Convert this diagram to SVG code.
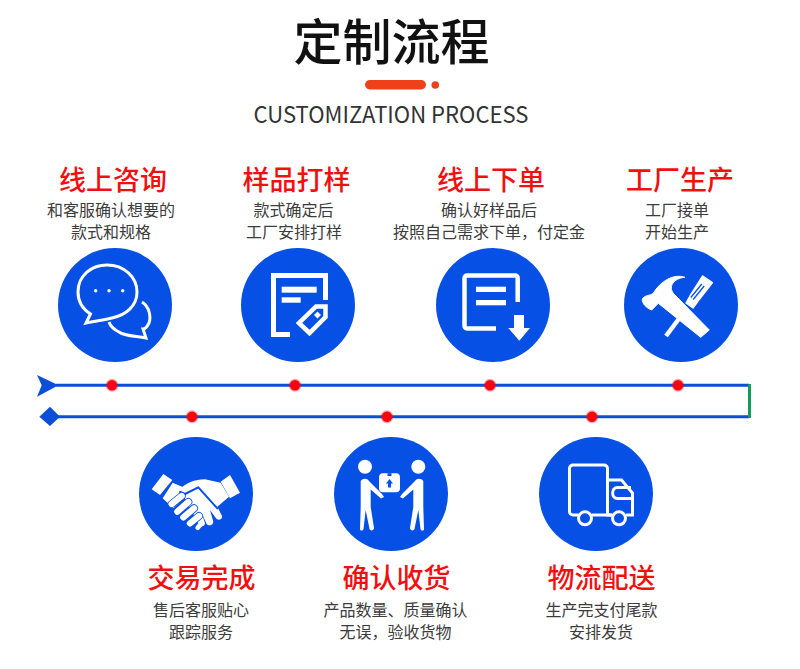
<svg xmlns="http://www.w3.org/2000/svg" width="800" height="669" viewBox="0 0 800 669">
<style>
text{font-family:"Noto Sans CJK SC","Noto Sans",sans-serif;text-anchor:middle}
.h{font-size:27px;fill:#f01010;font-weight:500}
.d{font-size:16px;fill:#3c3c3c;font-weight:400}
.c{fill:#0650e6}
.w{fill:#fff}
.s{fill:none;stroke:#fff;stroke-linecap:butt;stroke-linejoin:miter}
.dot{fill:#f6060f;stroke:#f6060f;stroke-opacity:.35;stroke-width:2.500}
.ln{fill:none;stroke:#0b4fd8;stroke-width:3}
.lump{fill:none;stroke:#0650e6;stroke-width:24;stroke-linecap:round}
.lw{fill:none;stroke:#fff;stroke-width:19;stroke-linecap:round}
</style>
<rect width="800" height="669" fill="#fff"/>
<g id="header">
<text x="391.500" y="60" font-size="49" font-weight="500" fill="#111">定制流程</text>
<rect x="365" y="80" width="61" height="9.500" rx="4.700" fill="#f0401a"/>
<circle cx="435.300" cy="85" r="3.800" fill="#f0401a"/>
<text x="391" y="123" font-size="23" font-weight="400" fill="#333" textLength="275" lengthAdjust="spacingAndGlyphs">CUSTOMIZATION PROCESS</text>
</g>
<g id="connectors">
<path class="ln" d="M56 385.300H749"/>
<path class="ln" d="M58 416.700H749"/>
<path d="M749.500 384V418" fill="none" stroke="#159a5e" stroke-width="3"/>
<path d="M37 375L58.500 385.300L37 396.700L41.700 385.300Z" fill="#0b4fd8"/>
<path d="M50 406.700L60 416.700L50 426L39.300 416.700Z" fill="#0b4fd8"/>
<circle class="dot" cx="112" cy="385.300" r="5.200"/>
<circle class="dot" cx="295" cy="385.300" r="5.200"/>
<circle class="dot" cx="490" cy="385.300" r="5.200"/>
<circle class="dot" cx="678" cy="385.300" r="5.200"/>
<circle class="dot" cx="192" cy="416.700" r="5.200"/>
<circle class="dot" cx="387" cy="416.700" r="5.200"/>
<circle class="dot" cx="592" cy="416.700" r="5.200"/>
</g>
<g id="node-consult">
<text class="h" x="113" y="190">线上咨询</text>
<text class="d" x="111" y="216">和客服确认想要的</text>
<text class="d" x="111" y="238">款式和规格</text>
<circle class="c" cx="115" cy="305" r="57"/>
<path class="s" stroke-width="3" d="M86 323L90.500 314C81 308 78 299 78 292C78 275 92 265 107 265C124 265 137 277 137 292C137 306 126 315 112 318C105 320 95 321 86 323Z"/>
<path class="s" stroke-width="3" d="M142 302C150 307 151 318 149 323C147 327 145 329 143 329L146 338C135 336 124 336 119 332C113 329 110 325 109 322"/>
<circle class="w" cx="95.700" cy="290.700" r="1.700"/><circle class="w" cx="109" cy="290.700" r="1.700"/><circle class="w" cx="122.700" cy="290.700" r="1.700"/>
</g>
<g id="node-sample">
<text class="h" x="296.500" y="190">样品打样</text>
<text class="d" x="293.500" y="216">款式确定后</text>
<text class="d" x="294" y="238">工厂安排打样</text>
<circle class="c" cx="298" cy="305" r="57"/>
<path class="s" stroke-width="5" d="M290 334.500H273.500V275.500H325.500V300"/>
<rect class="w" x="281.700" y="286.700" width="35" height="6"/>
<rect class="w" x="281.700" y="297.300" width="19" height="5.400"/>
<path d="M299 323L309.500 333L325.500 317V306.500H316Z" fill="#0650e6" stroke="#fff" stroke-width="4.500"/>
<path class="w" d="M317.500 311.500L321 315L317.500 318.500L314 315Z"/>
</g>
<g id="node-order">
<text class="h" x="491" y="190">线上下单</text>
<text class="d" x="489" y="216">确认好样品后</text>
<text class="d" x="489" y="238">按照自己需求下单，付定金</text>
<circle class="c" cx="493" cy="305" r="57"/>
<path class="s" stroke-width="4.500" stroke-linejoin="round" d="M496 328.500H467A2.500 2.500 0 0 1 464.500 326V278A2.500 2.500 0 0 1 467 275.500H515A2.500 2.500 0 0 1 517.700 278V302"/>
<rect class="w" x="476" y="286.700" width="30" height="5.300"/>
<rect class="w" x="476" y="300" width="30" height="5.300"/>
<path class="w" d="M514 315H524V328H530L519.300 340.700L508.300 328H514Z"/>
</g>
<g id="node-produce">
<text class="h" x="680" y="190">工厂生产</text>
<text class="d" x="677" y="216">工厂接单</text>
<text class="d" x="677" y="238">开始生产</text>
<circle class="c" cx="681" cy="305" r="57"/>
<path class="s" stroke-width="4.500" stroke-linecap="round" d="M684 312L666 336"/>
<path class="w" stroke="#fff" stroke-width="1.500" stroke-linejoin="round" d="M702.700 276L712.300 282.700L698 301L693 308L686 303L690 296Z"/>
<path fill="none" stroke="#0650e6" stroke-width="1.300" d="M701.800 284L690.800 297.500M704.200 286L693.200 299.500"/>
<path class="w" stroke="#fff" stroke-width="1" stroke-linejoin="round" d="M642.300 299.300C644 295 650 296 653.300 293.300C660 281.700 673.300 273.300 685 277.300C673.300 278.300 668.300 286.700 673.300 293.300L709.300 330L700.700 337.300L658.300 303.300L651.700 310C646.700 308.300 641.700 303.300 642.300 299.300Z"/>
</g>
<g id="node-deal">
<text class="h" x="201.500" y="588">交易完成</text>
<text class="d" x="201" y="616">售后客服贴心</text>
<text class="d" x="201" y="638">跟踪服务</text>
<circle class="c" cx="196" cy="494" r="57"/>
<g transform="translate(130 430) scale(.33333)">
<path class="w" d="M100 132L127 150L90 195L65 178Z"/>
<path class="w" d="M300 135L330 188L300 205L272 155Z"/>
<path class="w" d="M128 158L160 172L150 190L165 200L130 235L98 205Z"/>
<path class="w" d="M150 178C165 160 195 148 225 148L272 158L297 200L262 230L276 258C278 270 262 272 258 265L240 240L250 275C250 285 235 290 230 282L215 250L225 280C225 290 212 292 208 285L170 215Z"/>
<path fill="none" stroke="#0650e6" stroke-width="6" stroke-linecap="round" stroke-linejoin="round" d="M150 186L165 192L205 172L262 235"/>
<path class="lump" d="M125 222L155 198"/><path class="lw" d="M125 222L155 198"/>
<path class="lump" d="M142 245L175 216"/><path class="lw" d="M142 245L175 216"/>
<path class="lump" d="M160 262L192 235"/><path class="lw" d="M160 262L192 235"/>
<path class="lump" d="M180 280L207 258"/><path class="lw" d="M180 280L207 258"/>
<path fill="none" stroke="#fff" stroke-width="14" stroke-linecap="round" d="M203 293L212 282"/>
</g>
</g>
<g id="node-receive">
<text class="h" x="396.500" y="588">确认收货</text>
<text class="d" x="395.500" y="616">产品数量、质量确认</text>
<text class="d" x="395.500" y="638">无误，验收货物</text>
<circle class="c" cx="391" cy="494" r="57"/>
<circle class="w" cx="365" cy="466.700" r="7"/><circle class="w" cx="418.300" cy="466.700" r="7"/>
<path class="w" d="M360.700 481C363 478 367 478 369 481L382 494L384 497L381 498.500L370.700 489.500V507L374 528C374 531 370 531 369.500 529L365.700 510L363.500 529C363 531 360 531 360 529L360.700 507Z"/>
<path class="w" d="M423.300 481C421 478 417 478 415 481L402 494L400 497L403 498.500L413.300 489.500V507L410 528C410 531 414 531 414.500 529L418.300 510L420.500 529C421 531 424 531 424 529L423.300 507Z"/>
<rect class="w" x="379" y="473.300" width="21" height="19" rx="4"/>
<path fill="#0650e6" d="M389.500 479L393 483.500H391V487.500H388V483.500H386ZM387.500 473.300H391.500V476H387.500Z"/>
</g>
<g id="node-ship">
<text class="h" x="601.500" y="588">物流配送</text>
<text class="d" x="601.500" y="616">生产完支付尾款</text>
<text class="d" x="601" y="638">安排发货</text>
<circle class="c" cx="596" cy="494" r="57"/>
<g class="s" stroke-width="3">
<path d="M578.500 515H573A3.500 3.500 0 0 1 569.500 511.500V468.500A3.500 3.500 0 0 1 573 465H604A3.500 3.500 0 0 1 607.500 468.500V515H612.500"/>
<path d="M607.500 480H621.500L632.500 493V515H626"/>
<path d="M631 487.500H617.500C611 487.500 611 498.500 617.500 498.500H632"/>
<path d="M591.500 515H612"/>
<circle cx="585" cy="518.300" r="6.500"/><circle cx="619" cy="518.300" r="6.500"/>
</g>
</g>
</svg>
